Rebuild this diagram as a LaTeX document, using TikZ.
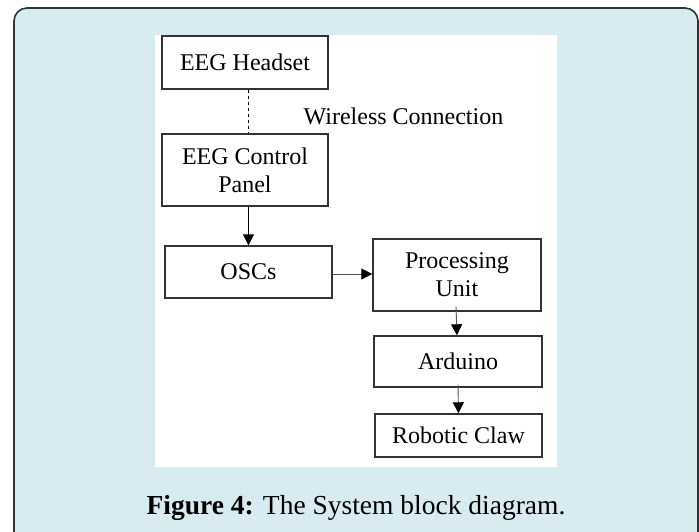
\documentclass[tikz,border=0pt]{standalone}
\usepackage{fontspec}
\setmainfont{Liberation Serif}
\usetikzlibrary{arrows.meta}

\definecolor{panelblue}{HTML}{D7EBF0}
\definecolor{framegray}{HTML}{333333}
\definecolor{linegray}{HTML}{555555}

\tikzset{
  block/.style={draw=framegray, line width=1.4pt, fill=white, inner sep=0pt,
    align=center, font=\fontsize{24}{28}\selectfont},
  flow/.style={-{Triangle[length=11pt,width=11pt,color=black]}, line width=0.9pt}
}

\begin{document}
\begin{tikzpicture}[x=1pt,y=-1pt]
	% 画布大小
	\useasboundingbox (0,0) rectangle (699,531);
	
	% 浅蓝色外框
	\draw[framegray, line width=1.6pt, fill=panelblue, rounded corners=13pt] (14,8) rectangle (698,548);
	% 白色图区
	\fill[white] (155,35) rectangle (557,467);
	
	% 方框
	\node[block, minimum width=166pt, minimum height=53pt] (headset) at (245,62.5) {EEG Headset};
	\node[block, minimum width=166pt, minimum height=72pt] (panel) at (245,170) {EEG Control\\Panel};
	\node[block, minimum width=167pt, minimum height=52pt] (oscs) at (248.5,272) {OSCs};
	\node[block, minimum width=168pt, minimum height=72pt] (proc) at (457,275) {Processing\\Unit};
	\node[block, minimum width=168pt, minimum height=51pt] (arduino) at (458,361.5) {Arduino};
	\node[block, minimum width=167pt, minimum height=43pt] (claw) at (458.5,435.5) {Robotic Claw};
	
	% 无线连接的说明文字
	\node[font=\fontsize{24}{28}\selectfont] (wireless) at (403.5,116) {Wireless Connection};
	
	% 连线
	\draw[dashed, line width=0.8pt] ([xshift=3pt]headset.south) -- ([xshift=3pt]panel.north);
	\draw[flow] (oscs.north |- panel.south) -- (oscs.north);
	\draw[flow, linegray] ([yshift=-2pt]oscs.east) -- ([yshift=-2pt]oscs.east -| proc.west);
	\draw[flow, linegray] ([xshift=-1pt,yshift=5pt]proc.south) -- (arduino.north -| proc.south);
	\draw[flow, linegray] ([yshift=3pt]arduino.south) -- (claw.north);
	
	% 图注
	\node[font=\fontsize{27.5}{32}\selectfont] (caption) at (356,508) {\textbf{Figure 4:} The System block diagram.};
	
\end{tikzpicture}
\end{document}
